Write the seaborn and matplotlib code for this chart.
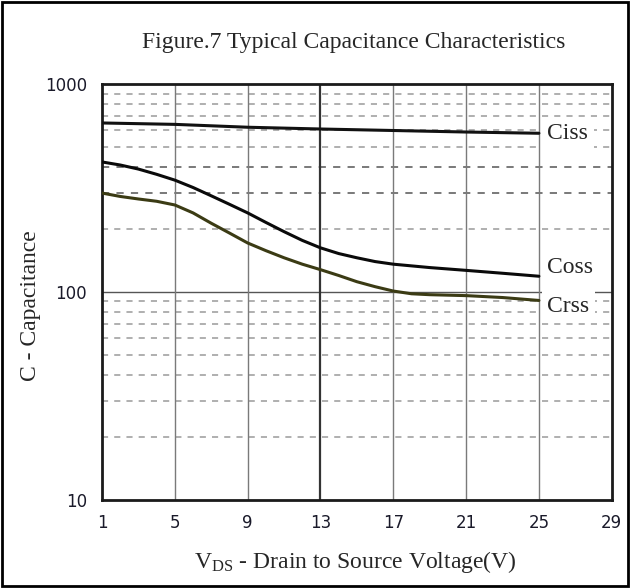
import numpy as np
import pandas as pd
import matplotlib
matplotlib.use("Agg")
import matplotlib.pyplot as plt
import seaborn as sns
from matplotlib.ticker import FixedLocator, NullFormatter

# values
ciss_vds = [1, 5, 9, 13, 17, 21, 25]
ciss = [650, 640, 620, 608, 598, 588, 580]
coss_vds = [1, 2, 3, 4, 5, 6, 7, 8, 9, 10, 11, 12, 13, 14, 15, 16, 17, 19, 21, 23, 25]
coss = [422, 408, 390, 368, 345, 318, 290, 264, 240, 216, 195, 177, 163, 153, 146, 140, 136, 131, 127, 123, 119]
crss_vds = [1, 2, 3, 4, 5, 6, 7, 8, 9, 10, 11, 12, 13, 14, 15, 16, 17, 18, 19, 21, 23, 25]
crss = [299, 288, 280, 273, 262, 240, 214, 192, 172, 158, 146, 136, 128, 120, 112, 106, 101, 98, 97, 96, 94, 91]

series_names = ["Ciss", "Coss", "Crss"]
x_ticks = [1, 5, 9, 13, 17, 21, 25, 29]
y_ticks = [10, 100, 1000]

df = pd.DataFrame({
    "vds": ciss_vds + coss_vds + crss_vds,
    "cap": ciss + coss + crss,
    "series": ["Ciss"] * len(ciss) + ["Coss"] * len(coss) + ["Crss"] * len(crss),
})

sns.set_style("white")
plt.rcParams["font.family"] = ["DejaVu Sans"]
serif = "Liberation Serif"
plt.rcParams["mathtext.fontset"] = "custom"
plt.rcParams["mathtext.rm"] = serif
fs = 17

fig = plt.figure(figsize=(6.3, 5.88), dpi=100)
ax = fig.add_axes([0.162, 0.150, 0.809, 0.707])

ax.set_yscale("log")
ax.set_xlim(1, 29)
ax.set_ylim(10, 1000)

# grid: dashed minor lines, solid vertical lines
minors = [m * d for d in (10, 100) for m in range(2, 10)]
for v in minors:
    dark = v in (300, 400)
    ax.axhline(v, color="#6e6e6e" if dark else "#9a9a9a", lw=1.3 if dark else 1.1,
               ls=(0, (4, 4)), zorder=1)
ax.axhline(100, color="#555555", lw=1.0, zorder=1)
for xv in x_ticks[1:-1]:
    if xv == 13:
        ax.axvline(xv, color="#333333", lw=1.6, zorder=1)
    else:
        ax.axvline(xv, color="#7a7a7a", lw=1.0, zorder=1)

palette = {"Ciss": "#111111", "Coss": "#0a0a0a", "Crss": "#3b3b14"}
sns.lineplot(data=df, x="vds", y="cap", hue="series", palette=palette,
             ax=ax, legend=False, zorder=3)
for ln in ax.get_lines()[-3:]:
    ln.set_linewidth(2.2)

# curve labels at right end
offsets = {"Ciss": 0, "Coss": 6, "Crss": -4.5}
for name, xs, vals in zip(series_names, [ciss_vds, coss_vds, crss_vds], [ciss, coss, crss]):
    ax.annotate(name, (xs[-1], vals[-1]), xytext=(6, offsets[name]),
                textcoords="offset points", fontsize=fs, family=serif,
                va="center", ha="left", zorder=4,
                bbox=dict(facecolor="white", edgecolor="none", pad=4))

ax.xaxis.set_major_locator(FixedLocator(x_ticks))
ax.yaxis.set_major_locator(FixedLocator(y_ticks))
ax.yaxis.set_minor_locator(FixedLocator(minors))
ax.yaxis.set_minor_formatter(NullFormatter())
ax.set_yticklabels([str(v) for v in y_ticks])
ax.tick_params(which="both", length=0, labelsize=12, colors="#1a1a2a", pad=11)
ax.tick_params(axis="x", pad=10)

for s in ax.spines.values():
    s.set_linewidth(2.0)
    s.set_color("#1a1a1a")

ax.set_xlabel("$\\mathrm{V_{DS}}$ - Drain to Source Voltage(V)",
              family=serif, fontsize=fs, va="center")
ax.xaxis.set_label_coords(0.496, -0.149)
ax.set_ylabel("C - Capacitance", family=serif, fontsize=fs, va="center")
ax.yaxis.set_label_coords(-0.141, 0.466)
fig.text(0.561, 0.928, "Figure.7 Typical Capacitance Characteristics",
         ha="center", va="center", family=serif, fontsize=fs)

# outer frame of the figure
fig.patches.append(plt.Rectangle((0.003, 0.003), 0.994, 0.994,
                                 transform=fig.transFigure, fill=False,
                                 edgecolor="black", lw=2))

fig.savefig("out.png", dpi=100)
